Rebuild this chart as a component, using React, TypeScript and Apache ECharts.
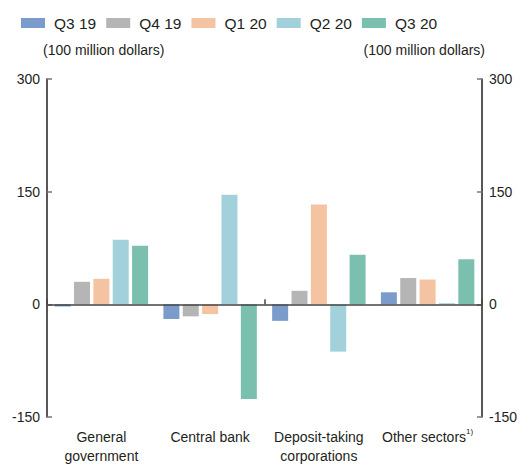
import React, { useEffect, useRef } from "react";
import * as echarts from "echarts";

const categories = ["General\ngovernment", "Central bank", "Deposit-taking\ncorporations", "Other sectors{sup|1)}"];
const seriesNames = ["Q3 19", "Q4 19", "Q1 20", "Q2 20", "Q3 20"];
const seriesColors = ["#7b9bcb", "#b5b5b5", "#f4c3a2", "#a2d1dc", "#7bbfae"];
const q319 = [-3, -19.5, -22, 16];
const q419 = [30, -16, 18, 35];
const q120 = [34, -13, 133, 33];
const q220 = [86, 146, -63, 1.5];
const q320 = [78, -126, 66, 60];
const seriesValues = [q319, q419, q120, q220, q320];
const yTicks = { min: -150, max: 300, interval: 150 };
const unitLabel = "(100 million dollars)";

const FONT = "'Liberation Sans', Arial, sans-serif";
const TXT = "#231f20";

export default function App() {
  const ref = useRef<HTMLDivElement>(null);
  useEffect(() => {
    if (!ref.current) return;
    const chart = echarts.init(ref.current, null, { renderer: "svg" });
    const yAxisBase = (position: "left" | "right") => ({
      type: "value" as const,
      position,
      min: yTicks.min,
      max: yTicks.max,
      interval: yTicks.interval,
      splitLine: { show: false },
      axisLine: { show: true, onZero: false, lineStyle: { color: TXT, width: 1.5 } },
      axisTick: { show: true, inside: true, length: 5, lineStyle: { color: "#777", width: 1.5 } },
      axisLabel: { color: TXT, fontFamily: FONT, fontSize: 14, margin: 7 },
    });
    chart.setOption({
      animation: false,
      textStyle: { fontFamily: FONT },
      legend: {
        top: 10,
        left: 16,
        itemWidth: 24,
        itemHeight: 10,
        itemGap: 10,
        icon: "rect",
        data: seriesNames,
        textStyle: { fontFamily: FONT, fontSize: 15.5, color: TXT, width: 56, padding: [0, 0, 0, 4] },
      },
      graphic: [
        { type: "text", left: 43, top: 43, style: { text: unitLabel, font: `14px ${FONT}`, fill: TXT } },
        { type: "text", right: 35, top: 43, style: { text: unitLabel, font: `14px ${FONT}`, fill: TXT } },
      ],
      grid: { left: 47, right: 38, top: 79, bottom: 47, containLabel: false },
      xAxis: [
        {
          type: "category",
          data: categories,
          z: 5,
          axisLine: { show: true, onZero: true, lineStyle: { color: "#444", width: 1.5 } },
          axisTick: { show: true, inside: true, length: 5, lineStyle: { color: "#444", width: 1.5 } },
          axisLabel: { show: false },
        },
        {
          type: "category",
          data: categories,
          position: "bottom",
          axisLine: { show: false, onZero: false },
          axisTick: { show: false },
          axisLabel: {
            show: true,
            interval: 0,
            color: TXT,
            fontFamily: FONT,
            fontSize: 14,
            lineHeight: 19,
            margin: 10,
            rich: {
              sup: { fontSize: 8, verticalAlign: "top", lineHeight: 12, padding: [0, 0, 8, 0], color: TXT, fontFamily: FONT },
            },
          },
        },
      ],
      yAxis: [yAxisBase("left"), yAxisBase("right")],
      series: seriesNames.map((name, i) => ({
        name,
        type: "bar",
        xAxisIndex: 0,
        yAxisIndex: 0,
        data: seriesValues[i],
        barWidth: 16,
        barGap: "21%",
        itemStyle: { color: seriesColors[i] },
      })),
    });
    return () => chart.dispose();
  }, []);
  return <div ref={ref} style={{ width: 520, height: 465, position: "absolute", left: 0, top: 0, background: "#fff" }} />;
}
